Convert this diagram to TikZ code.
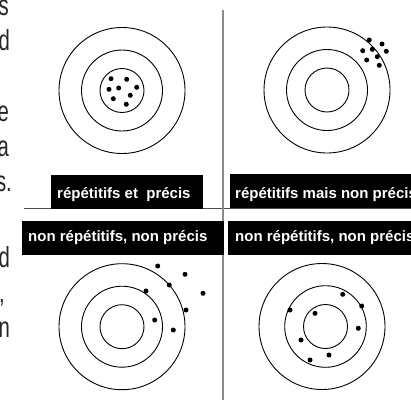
\documentclass[tikz,border=0pt]{standalone}
\usepackage{fontspec}
\setmainfont{Liberation Sans}
\newfontfamily\margfont[FakeStretch=0.7]{Liberation Sans}
\begin{document}
\begin{tikzpicture}[x=1pt,y=-1pt,
  ring/.style={draw=black,line width=0.9pt},
  hit/.style={circle,fill=black,inner sep=0pt,minimum size=5pt},
  labbox/.style={fill=black,inner sep=0pt,anchor=north west},
  labtext/.style={text=white,font=\fontsize{15}{17}\selectfont\bfseries,inner sep=0pt,anchor=base west},
  margin/.style={font=\margfont\fontsize{29}{32}\selectfont,text=black!85,inner sep=0pt,anchor=base east}]
\useasboundingbox (0,0) rectangle (411,402);
\clip (0,0) rectangle (411,402);

% dividing lines
\coordinate (vtop) at (223,10);
\coordinate (vbot) at (223,400);
\coordinate (hleft) at (24,208.5);
\coordinate (hright) at (411,208.5);
\draw[draw=black!70,line width=1pt] (hleft) -- (hright);
\draw[draw=black!45,line width=1.6pt] (vtop) -- (vbot);

% margin letters
\node[margin] (m1) at (9,15) {s};
\node[margin] (m2) at (10,50) {d};
\node[margin] (m3) at (9,121) {e};
\node[margin] (m4) at (9,156) {a};
\node[margin] (m5) at (12,191) {s.};
\node[margin] (m6) at (10,267) {d};
\node[margin] (m7) at (5,302) {,};
\node[margin] (m8) at (10,337) {n};

% target 1: repetitive and precise
\coordinate (c1) at (122,90.5);
\draw[ring] (c1) circle (63);
\draw[ring] (c1) circle (40.5);
\draw[ring] (c1) circle (22);
\foreach \p [count=\i] in {(111,78.7),(126.7,79.3),(109,89.3),(118.7,88),(136.7,87.3),(113.3,98.7),(130.3,95.3),(126.3,104.3)}
  \node[hit] (a\i) at \p {};

% target 2: repetitive but not precise
\coordinate (c2) at (327,90);
\draw[ring] (c2) circle (63);
\draw[ring] (c2) circle (40.5);
\draw[ring] (c2) circle (22);
\foreach \p [count=\i] in {(369.3,40),(382,44),(362.7,50.7),(372.3,49.3),(386.3,51.3),(377.3,56.7),(366.7,60),(379.3,65.3)}
  \node[hit] (b\i) at \p {};

% target 3: not repetitive, not precise
\coordinate (c3) at (122,326.7);
\draw[ring] (c3) circle (63);
\draw[ring] (c3) circle (40.5);
\draw[ring] (c3) circle (22);
\foreach \p [count=\i] in {(157.7,266),(185,274.3),(169.3,285),(203,293.3),(146,291),(186,310),(154.7,320),(173.3,330)}
  \node[hit] (d\i) at \p {};

% target 4: not repetitive, not precise (centered)
\coordinate (c4o) at (322,326.5);
\coordinate (c4) at (325.5,326.5);
\draw[ring] (c4o) circle (63);
\draw[ring] (c4) circle (40.8);
\draw[ring] (c4) circle (22);
\foreach \p [count=\i] in {(342.7,294.3),(361.7,306),(290,310),(315,313.3),(358.3,328.3),(301,340),(329,355),(310,360)}
  \node[hit] (e\i) at \p {};

% labels
\node[labbox,minimum width=152pt,minimum height=34pt] (L1) at (51,175) {};
\node[labtext] (T1) at (57,198) {répétitifs et \ précis};
\node[labbox,minimum width=190pt,minimum height=34pt] (L2) at (230,174) {};
\node[labtext] (T2) at (235,198) {répétitifs mais non précis};
\node[labbox,minimum width=202pt,minimum height=34pt] (L3) at (22,221) {};
\node[labtext] (T3) at (28,241) {non répétitifs, non précis};
\node[labbox,minimum width=190pt,minimum height=34pt] (L4) at (228,221) {};
\node[labtext] (T4) at (235,241) {non répétitifs, non précis};
\end{tikzpicture}
\end{document}
